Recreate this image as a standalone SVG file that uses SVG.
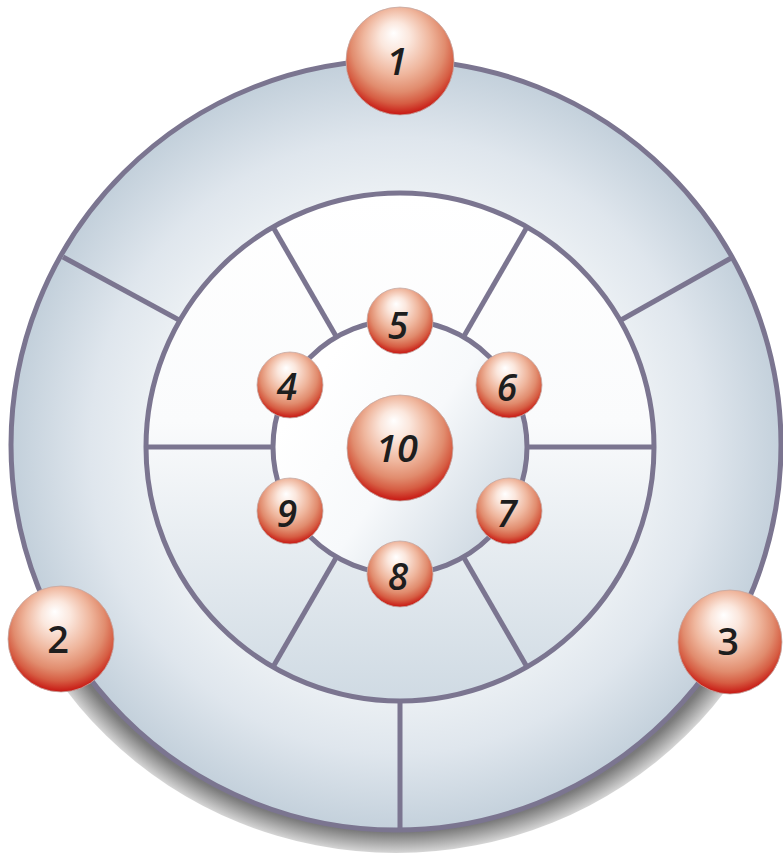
<svg xmlns="http://www.w3.org/2000/svg" width="783" height="856" viewBox="0 0 783 856">
  <defs>
    <radialGradient id="outerFill" gradientUnits="userSpaceOnUse" cx="398" cy="446" r="385">
      <stop offset="0.62" stop-color="#eef2f5"/>
      <stop offset="0.8" stop-color="#dfe6ed"/>
      <stop offset="1" stop-color="#c3d0db"/>
    </radialGradient>
    <linearGradient id="midFill" x1="0" y1="0" x2="0" y2="1">
      <stop offset="0" stop-color="#ffffff"/>
      <stop offset="0.45" stop-color="#fafbfc"/>
      <stop offset="1" stop-color="#cfdae3"/>
    </linearGradient>
    <linearGradient id="innerFill" x1="0.15" y1="0.25" x2="1" y2="0.85">
      <stop offset="0" stop-color="#ffffff"/>
      <stop offset="0.45" stop-color="#f7f9fb"/>
      <stop offset="1" stop-color="#c6d2dd"/>
    </linearGradient>
    <radialGradient id="shadowFill" cx="0.5" cy="0.5" r="0.5">
      <stop offset="0.9" stop-color="#606060"/>
      <stop offset="0.95" stop-color="#7c7c7c"/>
      <stop offset="1" stop-color="#d6d6d6"/>
    </radialGradient>
    <radialGradient id="ballFill" cx="0.5" cy="0.4" r="0.62" fx="0.44" fy="0.24">
      <stop offset="0" stop-color="#ffffff"/>
      <stop offset="0.22" stop-color="#fbe7dd"/>
      <stop offset="0.5" stop-color="#efb69d"/>
      <stop offset="0.7" stop-color="#e18c6e"/>
      <stop offset="0.84" stop-color="#d65d43"/>
      <stop offset="1" stop-color="#c40808"/>
    </radialGradient>
    <clipPath id="shadowClip">
      <rect x="0" y="625" width="783" height="231"/>
    </clipPath>
    <style>
      .ring { stroke: #7b7590; stroke-width: 5; }
      .div { stroke: #7b7590; stroke-width: 5; stroke-linecap: butt; fill: none; }
      .ball { fill: url(#ballFill); stroke: #c4aaa4; stroke-width: 0.8; }
      .num { font-family: "Open Sans", "DejaVu Sans", sans-serif; font-style: italic; font-weight: 600; font-size: 37px; fill: #1e1e1e; text-anchor: middle; }
      .up { font-style: normal; }
      .big { font-size: 38px; }
    </style>
  </defs>

  <g id="background">
    <ellipse cx="396" cy="452" rx="410" ry="401" fill="url(#shadowFill)" clip-path="url(#shadowClip)"/>
    <circle class="ring" cx="396" cy="445" r="385" fill="url(#outerFill)"/>
    <circle class="ring" cx="400" cy="447" r="254" fill="url(#midFill)"/>
    <circle class="ring" cx="400" cy="447" r="127" fill="url(#innerFill)"/>
  </g>

  <g id="connectors">
    <line class="div" x1="63" y1="257" x2="179" y2="320"/>
    <line class="div" x1="733" y1="257" x2="621" y2="320"/>
    <line class="div" x1="400" y1="701" x2="400" y2="830"/>
    <line class="div" x1="527" y1="447" x2="654" y2="447"/>
    <line class="div" x1="273" y1="447" x2="146" y2="447"/>
    <line class="div" x1="463.5" y1="557" x2="527" y2="667"/>
    <line class="div" x1="336.5" y1="557" x2="273" y2="667"/>
    <line class="div" x1="336.5" y1="337" x2="273" y2="227"/>
    <line class="div" x1="463.5" y1="337" x2="527" y2="227"/>
  </g>

  <g id="node-1"><circle class="ball" cx="400" cy="61" r="54"/><text class="num big" x="397" y="75">1</text></g>
  <g id="node-2"><circle class="ball" cx="61" cy="639" r="53"/><text class="num big up" x="58" y="653">2</text></g>
  <g id="node-3"><circle class="ball" cx="730" cy="642" r="52"/><text class="num big up" x="728" y="655">3</text></g>
  <g id="node-4"><circle class="ball" cx="290" cy="385" r="33"/><text class="num" x="287" y="400">4</text></g>
  <g id="node-5"><circle class="ball" cx="400" cy="321" r="33"/><text class="num" x="398" y="339">5</text></g>
  <g id="node-6"><circle class="ball" cx="509" cy="385" r="33"/><text class="num" x="507" y="401">6</text></g>
  <g id="node-7"><circle class="ball" cx="509" cy="511" r="33"/><text class="num" x="507" y="527">7</text></g>
  <g id="node-8"><circle class="ball" cx="400" cy="574" r="33"/><text class="num" x="398" y="590">8</text></g>
  <g id="node-9"><circle class="ball" cx="290" cy="511" r="33"/><text class="num" x="287" y="527">9</text></g>
  <g id="node-10"><circle class="ball" cx="400" cy="448" r="53"/><text class="num big" x="397" y="462">10</text></g>
</svg>
